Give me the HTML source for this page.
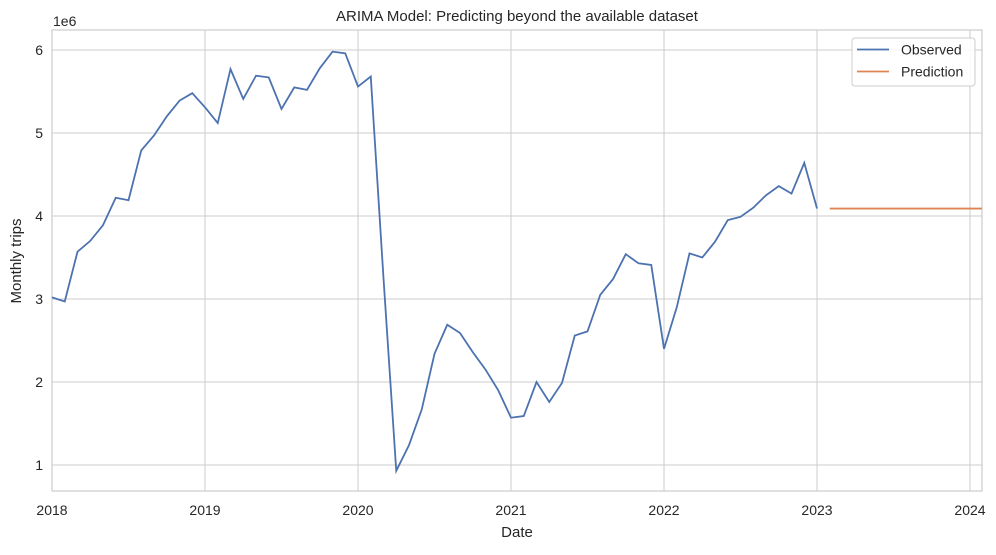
<!DOCTYPE html>
<html><head><meta charset="utf-8"><style>
body{margin:0;background:#fff;font-family:"Liberation Sans",sans-serif}
svg text{font-family:"Liberation Sans",sans-serif;fill:#262626}
</style></head><body>
<svg id="chart" width="996" height="550" xmlns="http://www.w3.org/2000/svg"></svg>
<script>
const observed = [3.02,2.97,3.57,3.70,3.89,4.22,4.19,4.79,4.97,5.20,5.39,5.48,
5.31,5.12,5.77,5.41,5.69,5.67,5.29,5.55,5.52,5.78,5.98,5.96,
5.56,5.68,3.25,0.93,1.24,1.67,2.34,2.69,2.59,2.36,2.15,1.90,
1.57,1.59,2.00,1.76,1.99,2.56,2.61,3.05,3.24,3.54,3.43,3.41,
2.40,2.90,3.55,3.50,3.69,3.95,3.99,4.10,4.25,4.36,4.27,4.64,4.09];
const prediction = [4.09,4.09,4.09,4.09,4.09,4.09,4.09,4.09,4.09,4.09,4.09,4.09,4.09];
const predStart = 61;
const yTicks = [1,2,3,4,5,6];
const xTickLabels = ["2018","2019","2020","2021","2022","2023","2024"];
const L=52,R=982,T=30,B=491;
const xMin=0,xMax=72.94,yMin=0.687,yMax=6.241;
const xs=m=>L+(m-xMin)/(xMax-xMin)*(R-L);
const ys=v=>B-(v-yMin)/(yMax-yMin)*(B-T);
const svg=document.getElementById('chart');
const NS='http://www.w3.org/2000/svg';
function el(tag,attrs,parent){const e=document.createElementNS(NS,tag);for(const k in attrs)e.setAttribute(k,attrs[k]);(parent||svg).appendChild(e);return e;}
yTicks.forEach(v=>{
 const g=el('line',{x1:L,x2:R,y1:ys(v),y2:ys(v),stroke:'#cccccc','stroke-width':1});
 
 
 const t=el('text',{x:L-9,y:ys(v)+5,'text-anchor':'end','font-size':14});
 t.textContent=v;
 
 
});
xTickLabels.forEach((lab,i)=>{
 const x=xs(i*12);
 const g=el('line',{x1:x,x2:x,y1:T,y2:B,stroke:'#cccccc','stroke-width':1});
 
 
 const t=el('text',{x:x,y:B+24,'text-anchor':'middle','font-size':14});
 t.textContent=lab;
 
 
});
const frame=el('rect',{x:L,y:T,width:R-L,height:B-T,fill:'none',stroke:'#cccccc','stroke-width':1.2});


const obs=el('polyline',{points:observed.map((v,i)=>xs(i)+','+ys(v)).join(' '),fill:'none',stroke:'#4c72b0','stroke-width':1.8});


const cp=el('clipPath',{id:'clip'});el('rect',{x:L,y:T,width:R-L,height:B-T},cp);
const pr=el('polyline',{points:prediction.map((v,i)=>xs(predStart+i)+','+ys(v)).join(' '),fill:'none',stroke:'#dd8452','stroke-width':1.8,'clip-path':'url(#clip)'});


</script>
<svg style="position:absolute;left:0;top:0" width="996" height="550" xmlns="http://www.w3.org/2000/svg">
<text x="517" y="21" text-anchor="middle" font-size="15">ARIMA Model: Predicting beyond the available dataset</text>
<text x="53" y="26" font-size="14">1e6</text>
<text x="517" y="537" text-anchor="middle" font-size="15">Date</text>
<text x="21" y="261" text-anchor="middle" font-size="15" transform="rotate(-90 21 261)">Monthly trips</text>
<g>
<rect x="852" y="38" width="123" height="48" rx="3" fill="#fff" fill-opacity="0.85" stroke="#cccccc"/>
<line x1="857" x2="889" y1="49.5" y2="49.5" stroke="#4c72b0" stroke-width="1.8"/>
<text x="901" y="54.5" font-size="14">Observed</text>
<line x1="857" x2="889" y1="71.5" y2="71.5" stroke="#dd8452" stroke-width="1.8"/>
<text x="901" y="76.5" font-size="14">Prediction</text>
</g>
</svg>
</body></html>
